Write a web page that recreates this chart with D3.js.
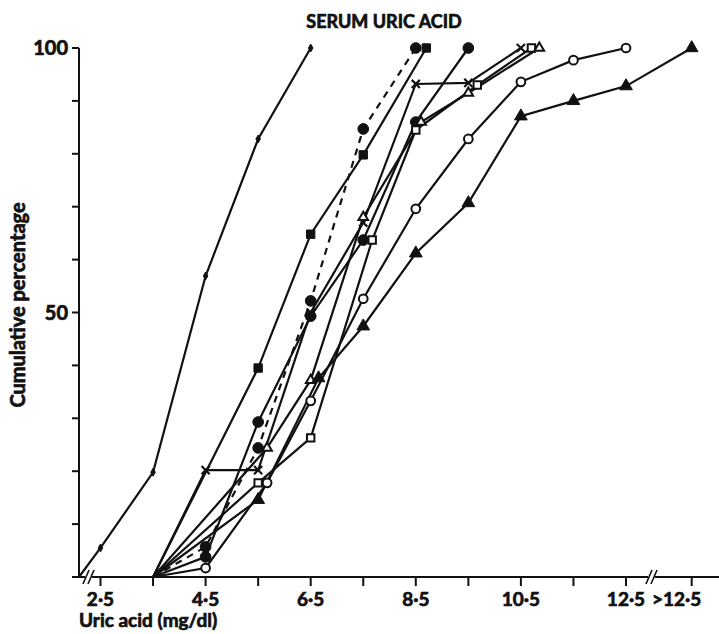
<!DOCTYPE html>
<html>
<head>
<meta charset="utf-8">
<script src="https://cdn.jsdelivr.net/npm/d3@7"></script>
<style>
  body { margin: 0; background: #fff; }
  text { font-family: Lato, "DejaVu Sans", sans-serif; font-weight: 700; fill: #111;
         stroke: #111; stroke-width: 0.7px; }
</style>
</head>
<body>
<div id="chart"></div>
<script>
// tick labels along the uric acid axis
var xTickValues = [2.5, 3.5, 4.5, 5.5, 6.5, 7.5, 8.5, 9.5, 10.5, 11.5, 12.5];
var xTickLabels = ["2·5", "4·5", "6·5", "8·5", "10·5", "12·5"];
var xOverValue = 13.75, xOverLabel = ">12·5";
var yTickValues = [0, 10, 20, 30, 40, 50, 60, 70, 80, 90, 100];
var yTickLabels = [50, 100];

// one pair of arrays per group (uric acid, cumulative %)
var dotX = [2.09, 2.5, 3.5, 4.5, 5.5, 6.5];
var dotY = [0, 5.5, 19.8, 56.9, 82.8, 100];
var fsqX = [3.5, 5.5, 6.5, 7.5, 8.7];
var fsqY = [0, 39.5, 64.8, 79.8, 100];
var fcdX = [3.5, 4.5, 5.5, 6.5, 7.5, 8.5];
var fcdY = [0, 5.7, 24.4, 52.2, 84.7, 100];
var fciX = [3.5, 4.5, 5.5, 6.5, 7.5, 8.5, 9.5];
var fciY = [0, 3.8, 29.3, 49.3, 63.7, 86, 100];
var crsX = [3.5, 4.5, 5.5, 6.5, 7.5, 8.5, 9.5, 10.5];
var crsY = [0, 20.2, 20.2, 50, 67, 93.2, 93.4, 100];
var osqX = [3.5, 5.5, 6.5, 7.67, 8.5, 9.67, 10.7];
var osqY = [0, 17.8, 26.3, 63.7, 84.5, 93, 100];
var otrX = [3.5, 5.67, 6.5, 7.5, 8.6, 9.5, 10.85];
var otrY = [0, 24.4, 37.2, 68, 86, 91.5, 100];
var ociX = [3.5, 4.5, 5.67, 6.5, 7.5, 8.5, 9.5, 10.5, 11.5, 12.5];
var ociY = [0, 1.7, 17.8, 33.3, 52.6, 69.6, 82.8, 93.6, 97.7, 100];
var ftrX = [3.5, 5.5, 6.65, 7.5, 8.5, 9.5, 10.5, 11.5, 12.5, 13.75];
var ftrY = [0, 14.6, 37.6, 47.4, 61.2, 70.7, 87.1, 90, 92.8, 100];

var series = [
    {x: dotX, y: dotY, sym: "dot"},
    {x: fsqX, y: fsqY, sym: "fsq"},
    {x: fcdX, y: fcdY, sym: "fci", dash: "7,6"},
    {x: fciX, y: fciY, sym: "fci"},
    {x: crsX, y: crsY, sym: "crs"},
    {x: osqX, y: osqY, sym: "osq"},
    {x: otrX, y: otrY, sym: "otr"},
    {x: ociX, y: ociY, sym: "oci"},
    {x: ftrX, y: ftrY, sym: "ftr"}
];

var width = 719, height = 634;
var svg = d3.select("#chart").append("svg")
    .attr("width", width)
    .attr("height", height);

var x = d3.scaleLinear().domain([2.5, 12.5]).range([100.5, 626]);
var y = d3.scaleLinear().domain([0, 100]).range([577, 48]);
var x0 = x.invert(79);

// axes
var ax = svg.append("g").attr("stroke", "#111").attr("stroke-width", 2).attr("fill", "none");
ax.append("line").attr("x1", x(x0)).attr("x2", x(x0)).attr("y1", y(0) + 1).attr("y2", y(100));
ax.append("line").attr("x1", x(x0)).attr("x2", width).attr("y1", y(0)).attr("y2", y(0));
yTickValues.forEach(function(v) {
    ax.append("line").attr("x1", x(x0) - 7).attr("x2", x(x0)).attr("y1", y(v)).attr("y2", y(v));
});
xTickValues.concat([xOverValue]).forEach(function(v) {
    ax.append("line").attr("x1", x(v)).attr("x2", x(v)).attr("y1", y(0)).attr("y2", y(0) + 9);
});
// axis breaks
[x(x0) + 8, x(12.5) + 24].forEach(function(bx) {
    ax.append("rect").attr("x", bx - 2).attr("y", y(0) - 3).attr("width", 7).attr("height", 6)
        .attr("fill", "#fff").attr("stroke", "none");
    [0, 5].forEach(function(o) {
        ax.append("line").attr("x1", bx + o - 4).attr("x2", bx + o + 2)
            .attr("y1", y(0) + 7).attr("y2", y(0) - 7).attr("stroke-width", 1.6);
    });
});

svg.selectAll(".xl").data(xTickLabels).enter().append("text")
    .attr("x", function(d) { return x(+d.replace("·", ".")); })
    .attr("y", 606)
    .attr("text-anchor", "middle")
    .style("font-size", "19px")
    .text(function(d) { return d; });
svg.append("text").attr("x", x(xOverValue) - 15).attr("y", 606)
    .attr("text-anchor", "middle").style("font-size", "19px").text(xOverLabel);
svg.selectAll(".yl").data(yTickLabels).enter().append("text")
    .attr("x", 68).attr("y", function(d) { return y(d) + 7; })
    .attr("text-anchor", "end")
    .style("font-size", "20px")
    .text(function(d) { return d; });

svg.append("text").attr("x", 384).attr("y", 28).attr("text-anchor", "middle")
    .style("font-size", "18px").text("SERUM URIC ACID");
svg.append("text").attr("x", 79).attr("y", 627)
    .style("font-size", "19px").text("Uric acid (mg/dl)");
svg.append("text").attr("transform", "translate(25,305) rotate(-90)")
    .attr("text-anchor", "middle").style("font-size", "20px").text("Cumulative percentage");

// lines
var line = d3.line().x(function(d) { return x(d[0]); }).y(function(d) { return y(d[1]); });
series.forEach(function(s) {
    s.pts = s.x.map(function(v, i) { return [v, s.y[i]]; });
    svg.append("path").datum(s.pts)
        .attr("d", line)
        .attr("fill", "none")
        .attr("stroke", "#111")
        .attr("stroke-width", 2.2)
        .attr("stroke-dasharray", s.dash || null);
});

// markers
var shapes = {
    dot: {type: d3.symbolDiamond, size: 18, fill: true},
    fsq: {type: d3.symbolSquare, size: 70, fill: true},
    fci: {type: d3.symbolCircle, size: 90, fill: true},
    crs: {type: d3.symbolTimes || d3.symbolX, size: 45, fill: false, cross: true},
    osq: {type: d3.symbolSquare, size: 55, fill: false},
    otr: {type: d3.symbolTriangle, size: 40, fill: false},
    oci: {type: d3.symbolCircle, size: 60, fill: false},
    ftr: {type: d3.symbolTriangle, size: 70, fill: true}
};
series.forEach(function(s) {
    var sh = shapes[s.sym];
    svg.append("g").selectAll("path")
        .data(s.pts.filter(function(p) { return p[1] > 0; }))
        .enter().append("path")
        .attr("transform", function(d) { return "translate(" + x(d[0]) + "," + y(d[1]) + ")"; })
        .attr("d", d3.symbol().type(sh.type).size(sh.size))
        .attr("fill", sh.cross ? "none" : (sh.fill ? "#111" : "#fff"))
        .attr("stroke", "#111")
        .attr("stroke-width", sh.cross ? 2.2 : (sh.fill ? 1 : 2));
});
</script>
</body>
</html>
